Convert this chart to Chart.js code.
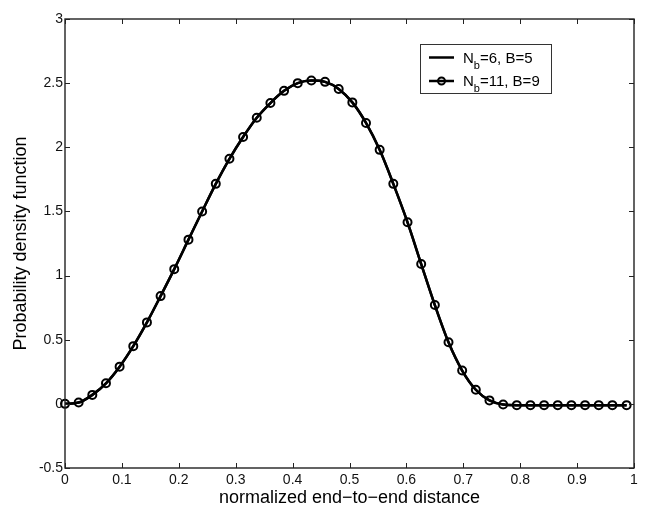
<!DOCTYPE html>
<html>
<head>
<meta charset="utf-8">
<script src="https://cdn.jsdelivr.net/npm/chart.js@4.4.1/dist/chart.umd.min.js"></script>
<style>
  html, body { margin: 0; padding: 0; background: #fff; }
  #wrap { width: 651px; height: 518px; position: relative; }
</style>
</head>
<body>
<div id="wrap"><canvas id="c" width="651" height="518"></canvas></div>
<script>
// ---- data ----
const xValues = [0.000,0.024,0.048,0.072,0.096,0.120,0.144,0.168,0.192,0.217,0.241,0.265,0.289,0.313,0.337,0.361,0.385,0.409,0.433,0.457,0.481,0.505,0.529,0.553,0.577,0.602,0.626,0.650,0.674,0.698,0.722,0.746,0.770,0.794,0.818,0.842,0.866,0.890,0.914,0.938,0.962,0.987];
const seriesNb6 = [0,0.01,0.07,0.16,0.29,0.45,0.635,0.84,1.05,1.28,1.50,1.715,1.91,2.08,2.23,2.345,2.44,2.50,2.52,2.51,2.455,2.35,2.19,1.98,1.715,1.415,1.09,0.77,0.48,0.26,0.11,0.027,-0.005,-0.01,-0.01,-0.01,-0.01,-0.01,-0.01,-0.01,-0.01,-0.01];
const seriesNb11 = [0,0.01,0.07,0.16,0.29,0.45,0.635,0.84,1.05,1.28,1.50,1.715,1.91,2.08,2.23,2.345,2.44,2.50,2.52,2.51,2.455,2.35,2.19,1.98,1.715,1.415,1.09,0.77,0.48,0.26,0.11,0.027,-0.005,-0.01,-0.01,-0.01,-0.01,-0.01,-0.01,-0.01,-0.01,-0.01];
const legendLabels = [["N","b","=6, B=5"],["N","b","=11, B=9"]];
const xTitle = "normalized end\u2212to\u2212end distance";
const yTitle = "Probability density function";

const FONT = "Liberation Sans, Arial, Helvetica, sans-serif";

const frameTicks = {
  id: 'frameTicks',
  afterDraw(chart) {
    const {ctx, chartArea: a, scales} = chart;
    ctx.save();
    ctx.strokeStyle = '#222';
    ctx.lineWidth = 1.4;
    ctx.strokeRect(a.left, a.top, a.right - a.left, a.bottom - a.top);
    const L = 5;
    ctx.beginPath();
    scales.x.ticks.forEach(t => {
      const px = Math.round(scales.x.getPixelForValue(t.value)) + 0.5;
      ctx.moveTo(px, a.bottom); ctx.lineTo(px, a.bottom - L);
      ctx.moveTo(px, a.top); ctx.lineTo(px, a.top + L);
    });
    scales.y.ticks.forEach(t => {
      const py = Math.round(scales.y.getPixelForValue(t.value)) + 0.5;
      ctx.moveTo(a.left, py); ctx.lineTo(a.left + L, py);
      ctx.moveTo(a.right, py); ctx.lineTo(a.right - L, py);
    });
    ctx.lineWidth = 1;
    ctx.stroke();

    // legend box
    const bx = 420.5, by = 44.5, bw = 131, bh = 49;
    ctx.fillStyle = '#fff';
    ctx.fillRect(bx, by, bw, bh);
    ctx.strokeStyle = '#333';
    ctx.lineWidth = 1;
    ctx.strokeRect(bx, by, bw, bh);
    const rows = [57.5, 81];
    rows.forEach((ry, i) => {
      ctx.strokeStyle = '#000';
      ctx.lineWidth = 2.5;
      ctx.beginPath();
      ctx.moveTo(429, ry); ctx.lineTo(454, ry);
      ctx.stroke();
      if (i === 1) {
        ctx.lineWidth = 2;
        ctx.beginPath();
        ctx.arc(441.5, ry, 3.5, 0, Math.PI * 2);
        ctx.stroke();
      }
      const lab = legendLabels[i];
      ctx.fillStyle = '#000';
      ctx.textBaseline = 'alphabetic';
      ctx.textAlign = 'left';
      ctx.font = '15px ' + FONT;
      let x = 463;
      ctx.fillText(lab[0], x, ry + 5);
      x += ctx.measureText(lab[0]).width;
      ctx.font = '11px ' + FONT;
      ctx.fillText(lab[1], x, ry + 11);
      x += ctx.measureText(lab[1]).width;
      ctx.font = '15px ' + FONT;
      ctx.fillText(lab[2], x, ry + 5);
    });
    ctx.restore();
  }
};

const ctx = document.getElementById('c').getContext('2d');
new Chart(ctx, {
  type: 'line',
  data: {
    datasets: [
      {
        label: 'Nb=6, B=5',
        data: xValues.map((x, i) => ({x, y: seriesNb6[i]})),
        borderColor: '#000',
        borderWidth: 2.5,
        pointRadius: 0,
        tension: 0.4,
        cubicInterpolationMode: 'monotone',
        fill: false,
        clip: false
      },
      {
        label: 'Nb=11, B=9',
        data: xValues.map((x, i) => ({x, y: seriesNb11[i]})),
        borderColor: '#000',
        borderWidth: 2.5,
        pointRadius: 4,
        pointBorderWidth: 2,
        pointBorderColor: '#000',
        pointBackgroundColor: 'rgba(0,0,0,0)',
        pointStyle: 'circle',
        tension: 0.4,
        cubicInterpolationMode: 'monotone',
        fill: false,
        clip: false
      }
    ]
  },
  options: {
    responsive: false,
    animation: false,
    devicePixelRatio: 1,
    layout: { padding: { left: 0, right: 17, top: 19, bottom: 0 } },
    plugins: { legend: { display: false }, tooltip: { enabled: false } },
    scales: {
      x: {
        type: 'linear',
        min: 0, max: 1,
        afterFit(s) { s.height = 50; },
        ticks: {
          stepSize: 0.1,
          color: '#111',
          font: { family: FONT, size: 14 },
          padding: 4,
          maxRotation: 0,
          callback: v => +v.toFixed(1)
        },
        grid: { display: false, drawTicks: false },
        border: { display: false },
        title: {
          display: true,
          text: xTitle,
          color: '#000',
          font: { family: FONT, size: 18 },
          padding: { top: 0, bottom: 9 }
        }
      },
      y: {
        type: 'linear',
        min: -0.5, max: 3,
        afterFit(s) { s.width = 65; },
        ticks: {
          stepSize: 0.5,
          color: '#111',
          font: { family: FONT, size: 14 },
          padding: 2,
          callback: v => +v.toFixed(1)
        },
        grid: { display: false, drawTicks: false },
        border: { display: false },
        title: {
          display: true,
          text: yTitle,
          color: '#000',
          font: { family: FONT, size: 18 },
          padding: { top: 10, bottom: 0 }
        }
      }
    }
  },
  plugins: [frameTicks]
});
</script>
</body>
</html>
